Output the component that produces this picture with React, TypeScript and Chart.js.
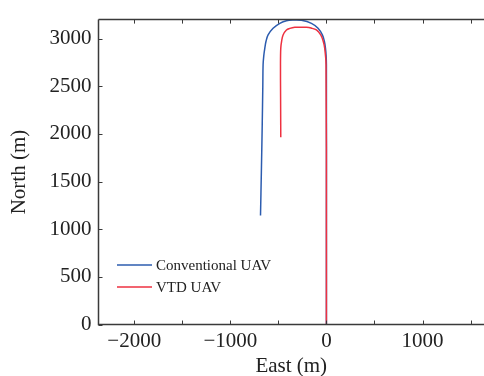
import React, { useEffect, useRef } from "react";
import { Chart, registerables } from "chart.js";

Chart.register(...registerables);

const conventionalEast = [0, 0, 0, -3, -10, -22, -42, -87, -156, -260, -340, -416, -485, -555, -607, -628, -641, -652, -659, -662, -668, -677, -686];
const conventionalNorth = [0, 1000, 2727, 2820, 2901, 2975, 3039, 3109, 3161, 3192, 3195, 3189, 3161, 3109, 3039, 2975, 2901, 2820, 2727, 2500, 2100, 1600, 1143];
const vtdEast = [0, 0, -4, -18, -34, -59, -104, -160, -208, -268, -329, -380, -416, -451, -466, -475, -478, -477, -475];
const vtdNorth = [0, 1000, 2727, 2901, 2975, 3039, 3091, 3111, 3119, 3121, 3119, 3108, 3091, 3039, 2975, 2901, 2727, 2400, 1966];

const seriesNames = ["Conventional UAV", "VTD UAV"];
const seriesColors = ["#2c5caf", "#ee3140"];

const xLabelTicks = [-2000, -1000, 0, 1000];
const xMarkTicks = [-2000, -1500, -1000, -500, 0, 500, 1000, 1500];
const yTicks = [0, 500, 1000, 1500, 2000, 2500, 3000];

const X_MIN = -2372;
const X_MAX = 1640;
const Y_MIN = 0;
const Y_MAX = 3200;

const FONT = "'Liberation Serif', 'Times New Roman', serif";
const AXIS_COLOR = "#3a3a3a";
const TEXT_COLOR = "#222";

const fmt = (v: number) => (v < 0 ? "\u2212" + Math.abs(v) : String(v));

const toPoints = (xs: number[], ys: number[]) => xs.map((x, i) => ({ x, y: ys[i] }));

const framePlugin = {
  id: "frame",
  afterDraw(chart: any) {
    const { ctx, chartArea } = chart;
    const { left, top, bottom } = chartArea;
    const xs = chart.scales.x;
    const ys = chart.scales.y;
    ctx.save();
    ctx.strokeStyle = AXIS_COLOR;
    ctx.lineWidth = 1.5;
    ctx.beginPath();
    ctx.moveTo(left, top);
    ctx.lineTo(left, bottom);
    ctx.lineTo(chart.width, bottom);
    ctx.moveTo(left, top);
    ctx.lineTo(chart.width, top);
    ctx.stroke();
    ctx.lineWidth = 1;
    const tl = 4;
    ctx.beginPath();
    xMarkTicks.forEach((v) => {
      const px = Math.round(xs.getPixelForValue(v)) + 0.5;
      ctx.moveTo(px, bottom);
      ctx.lineTo(px, bottom - tl);
      ctx.moveTo(px, top);
      ctx.lineTo(px, top + tl);
    });
    yTicks.forEach((v) => {
      const py = Math.round(ys.getPixelForValue(v)) + 0.5;
      ctx.moveTo(left, py);
      ctx.lineTo(left + tl, py);
    });
    ctx.stroke();

    // legend
    const lx0 = 117;
    const lx1 = 152;
    const ly = [265, 287];
    ctx.font = `15px ${FONT}`;
    ctx.textBaseline = "middle";
    ctx.textAlign = "left";
    seriesNames.forEach((name, i) => {
      ctx.strokeStyle = seriesColors[i];
      ctx.lineWidth = 1.5;
      ctx.beginPath();
      ctx.moveTo(lx0, ly[i]);
      ctx.lineTo(lx1, ly[i]);
      ctx.stroke();
      ctx.fillStyle = TEXT_COLOR;
      ctx.fillText(name, 156, ly[i] + 1);
    });
    ctx.restore();
  },
};

export default function App() {
  const ref = useRef<HTMLCanvasElement | null>(null);
  useEffect(() => {
    if (!ref.current) return;
    const chart = new Chart(ref.current, {
      type: "scatter",
      data: {
        datasets: [
          {
            label: seriesNames[0],
            data: toPoints(conventionalEast, conventionalNorth),
            borderColor: seriesColors[0],
            backgroundColor: seriesColors[0],
            borderWidth: 1.5,
            showLine: true,
            pointRadius: 0,
            tension: 0.35,
            order: 2,
          },
          {
            label: seriesNames[1],
            data: toPoints(vtdEast, vtdNorth),
            borderColor: seriesColors[1],
            backgroundColor: seriesColors[1],
            borderWidth: 1.5,
            showLine: true,
            pointRadius: 0,
            tension: 0.35,
            order: 1,
          },
        ],
      },
      options: {
        animation: false,
        responsive: true,
        maintainAspectRatio: false,
        layout: { padding: { top: 16, right: 0, left: 0, bottom: 0 } },
        plugins: {
          legend: { display: false },
          tooltip: { enabled: false },
        },
        scales: {
          x: {
            type: "linear",
            min: X_MIN,
            max: X_MAX,
            afterBuildTicks: (s: any) => {
              s.ticks = xLabelTicks.map((v) => ({ value: v }));
            },
            afterFit: (s: any) => {
              s.height = 51.5;
              s.paddingLeft = 0;
              s.paddingRight = 0;
            },
            grid: { display: false, drawTicks: false },
            border: { display: false },
            ticks: {
              color: TEXT_COLOR,
              font: { family: FONT, size: 21 },
              padding: 4,
              maxRotation: 0,
              autoSkip: false,
              callback: (v: any) => fmt(Number(v)),
            },
            title: {
              display: true,
              text: "East (m)",
              color: TEXT_COLOR,
              font: { family: FONT, size: 21, lineHeight: 1 },
              padding: { top: 0, bottom: -1 },
            },
          },
          y: {
            type: "linear",
            min: Y_MIN,
            max: Y_MAX,
            afterBuildTicks: (s: any) => {
              s.ticks = yTicks.map((v) => ({ value: v }));
            },
            afterFit: (s: any) => {
              s.width = 98.5;
            },
            grid: { display: false, drawTicks: false },
            border: { display: false },
            ticks: {
              color: TEXT_COLOR,
              font: { family: FONT, size: 21 },
              padding: 7,
              autoSkip: false,
              callback: (v: any) => fmt(Number(v)),
            },
            title: {
              display: true,
              text: "North (m)",
              color: TEXT_COLOR,
              font: { family: FONT, size: 21, lineHeight: 1 },
              padding: { top: 9, bottom: 0 },
            },
          },
        },
      },
      plugins: [framePlugin],
    });
    return () => chart.destroy();
  }, []);

  return (
    <div style={{ position: "absolute", left: 0, top: 0, width: 484, height: 376, background: "#fff" }}>
      <canvas ref={ref} />
    </div>
  );
}
